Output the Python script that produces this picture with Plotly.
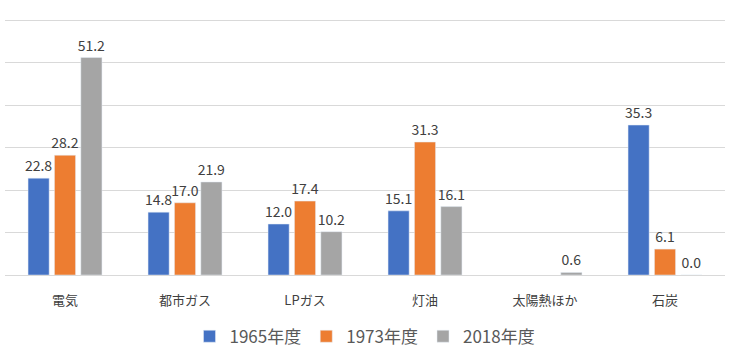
import plotly.graph_objects as go

categories = ["電気", "都市ガス", "LPガス", "灯油", "太陽熱ほか", "石炭"]
series_names = ["1965年度", "1973年度", "2018年度"]
v1965 = [22.8, 14.8, 12.0, 15.1, None, 35.3]
v1973 = [28.2, 17.0, 17.4, 31.3, None, 6.1]
v2018 = [51.2, 21.9, 10.2, 16.1, 0.6, 0.0]
colors = ["#4472C4", "#ED7D31", "#A5A5A5"]

font_family = "Noto Sans CJK JP, Noto Sans, sans-serif"

fig = go.Figure()
for name, vals, col in zip(series_names, [v1965, v1973, v2018], colors):
    fig.add_trace(go.Bar(
        x=categories, y=vals, name=name, marker_color=col,
        text=[None if v is None else f"{v:.1f}" for v in vals],
        textposition="outside", cliponaxis=False, constraintext="none",
        textfont=dict(size=14, color="#404040", family=font_family),
    ))

fig.update_layout(
    width=730, height=360,
    margin=dict(l=5, r=5, t=18, b=85, autoexpand=False),
    paper_bgcolor="white", plot_bgcolor="white",
    barmode="group", bargap=0.34, bargroupgap=0.2,
    font=dict(family=font_family, color="#595959"),
    showlegend=True,
    legend=dict(orientation="h", x=0.5, xanchor="center", y=-0.24, yanchor="middle",
                font=dict(size=17, color="#595959", family=font_family),
                traceorder="normal"),
)
fig.update_xaxes(showgrid=False, showline=False, ticks="", automargin=False,
                 ticklabelstandoff=16,
                 tickfont=dict(size=13, color="#404040", family=font_family))
fig.update_yaxes(range=[0, 60.5], tickvals=[10, 20, 30, 40, 50, 60], showgrid=True,
                 gridcolor="#D9D9D9",
                 zeroline=True, zerolinecolor="#D9D9D9", zerolinewidth=1,
                 showticklabels=False, ticks="", automargin=False)

fig.write_html("out.html", post_script="document.body.style.margin='0';",
               config={"displayModeBar": False})
